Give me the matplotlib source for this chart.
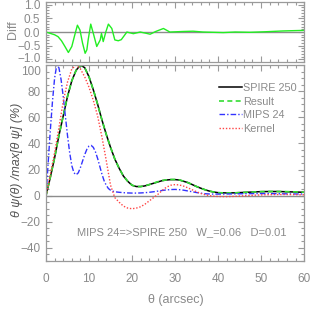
import matplotlib
matplotlib.use("Agg")
import matplotlib.pyplot as plt
from matplotlib.ticker import MultipleLocator
from matplotlib.transforms import ScaledTranslation

# ---------------- data ----------------
theta_a = list(range(0, 41)) + list(range(42, 61, 2))
spire250 = [0, 14, 29, 46, 61, 76, 88, 96, 100, 98,
            91, 81, 70, 58, 47, 37, 28, 21, 15, 11,
            8, 7, 7, 7.5, 8.5, 9.5, 10.5, 11.5, 12, 12.3,
            12.3, 12, 11, 10, 8.5, 7, 5.7, 4.5, 3.5, 2.8,
            2.3, 2.1, 2.2, 2.5, 2.8, 3.1, 3.2, 3.2, 3.0, 2.8, 2.6]
result = [0, 14, 29, 46, 61, 76, 88, 96, 100, 98,
          91, 81, 70, 58, 47, 37, 28, 21, 15, 11,
          8, 7, 7, 7.5, 8.5, 9.6, 10.7, 11.6, 12.1, 12.4,
          12.4, 12.1, 11.1, 10, 8.5, 7, 5.7, 4.5, 3.5, 2.8,
          2.3, 2.1, 2.2, 2.5, 2.8, 3.1, 3.2, 3.2, 3.1, 2.9, 2.7]
kernel = [0, 16, 33, 52, 72, 87, 97, 100, 97, 91,
          83, 73, 61, 45, 27, 8, -1.5, -5, -8, -9.5,
          -10, -9.5, -8.5, -6.5, -4, -1.5, 1, 4, 6.5, 8,
          8.5, 8.2, 7.3, 6, 4.5, 3, 1.7, 0.7, 0, -0.4,
          -0.6, -0.7, -0.5, -0.1, 0.3, 0.6, 0.8, 0.9, 0.9, 0.8, 0.7]

theta_b = [i * 0.5 for i in range(0, 33)] + list(range(17, 41)) + list(range(42, 61, 2))
mips24 = [0, 25, 50, 72, 90, 100, 98, 89, 76, 61,
          46, 33, 23, 17.5, 16, 17.5, 21.5, 26.5, 31.5, 35.5,
          38, 38.5, 37, 33.5, 28.5, 22.5, 16.5, 11.5, 8, 5.5,
          4.2, 3.5, 3.0,
          2.6, 2.3, 2.1, 2.0, 2.0, 2.1, 2.3, 2.6, 3.0, 3.5,
          4.0, 4.4, 4.7, 4.8, 4.6, 4.2, 3.6, 3.0, 2.4, 1.9,
          1.5, 1.3, 1.2, 1.2,
          1.3, 1.4, 1.5, 1.6, 1.6, 1.6, 1.5, 1.4, 1.3, 1.3]

theta_d = [0, 1, 2, 2.8, 3.6, 4.4, 5.2, 6.0, 6.7, 7.3, 7.9, 8.5, 9.1, 9.5, 9.8,
           10.4, 11.0, 11.8, 12.6, 12.9, 13.3, 13.9, 14.5, 15.3, 16.0, 16.8,
           17.5, 18.8, 20.3, 21.9, 23.4, 24.2, 25.5, 27.3, 28.8, 31.9, 34.2,
           36.5, 41.2, 44, 47.4, 51, 55.2, 59.8]
diff = [0, -0.05, -0.1, -0.17, -0.32, -0.53, -0.75, -0.53, -0.1, 0.25, 0.07,
        -0.41, -0.78, -0.65, -0.29, 0.29, -0.05, -0.53, -0.29, -0.05, -0.35,
        0.0, 0.29, 0.13, -0.29, -0.32, -0.28, 0.0, -0.06, 0.0, -0.05, -0.08,
        0.02, 0.13, 0.0, 0.02, 0.03, 0.0, -0.02, 0.0, -0.01, 0.01, 0.04, 0.06]

labels = ["SPIRE 250", "Result", "MIPS 24", "Kernel"]
note = "MIPS 24=>SPIRE 250   W_=0.06   D=0.01"

# ---------------- style ----------------
FONT = ["Liberation Sans", "DejaVu Sans"]
plt.rcParams["font.family"] = FONT
TXT = "#8a8a8a"
AX = "#9a9a9a"

fig = plt.figure(figsize=(3.14, 3.14), dpi=100)
ax1 = fig.add_axes([0.1465, 0.8025, 0.822, 0.191])
ax2 = fig.add_axes([0.1465, 0.1688, 0.822, 0.624])

for ax in (ax1, ax2):
    for s in ax.spines.values():
        s.set_color(AX)
        s.set_linewidth(0.9)
    ax.tick_params(which="both", direction="in", top=True, right=True,
                   colors=AX, labelcolor=TXT, labelsize=8.5, width=0.8)
    ax.tick_params(which="major", length=4)
    ax.tick_params(which="minor", length=2)
    ax.set_xlim(0, 60)
    ax.xaxis.set_major_locator(MultipleLocator(10))
    ax.xaxis.set_minor_locator(MultipleLocator(2))


def nudge(label, dy_pt):
    label.set_transform(label.get_transform() +
                        ScaledTranslation(0, dy_pt / 72, fig.dpi_scale_trans))


# top panel
ax1.set_ylim(-1.1, 1.1)
ax1.yaxis.set_minor_locator(MultipleLocator(0.1))
ax1.set_yticks([-1.0, -0.5, 0.0, 0.5, 1.0])
ax1.set_yticklabels(["\u22121.0", "\u22120.5", "0.0", "0.5", "1.0"])
ax1.tick_params(labelbottom=False)
ax1.tick_params(axis="y", pad=4)
nudge(ax1.get_yticklabels()[0], 1.5)
ax1.axhline(0, color="#8c8c8c", lw=1.0)
ax1.plot(theta_d, diff, color="#22ee22", lw=1.0)

# bottom panel
ax2.set_ylim(-50, 100)
ax2.yaxis.set_minor_locator(MultipleLocator(5))
ax2.set_yticks([-40, -20, 0, 20, 40, 60, 80, 100])
ax2.set_yticklabels(["\u221240", "\u221220", "0", "20", "40", "60", "80", "100"])
ax2.tick_params(axis="x", pad=9)
ax2.tick_params(axis="y", pad=4)
nudge(ax2.get_yticklabels()[-1], -4)
ax2.axhline(0, color="#8c8c8c", lw=1.0)
l1, = ax2.plot(theta_a, spire250, color="black", lw=1.1)
l2, = ax2.plot(theta_a, result, color="#33dd33", lw=1.2, dashes=(3, 2))
l3, = ax2.plot(theta_b, mips24, color="#3333ff", lw=1.0, dashes=(4, 1.5, 1, 1.5))
l4, = ax2.plot(theta_a, kernel, color="#ff4444", lw=1.0, dashes=(1, 1.3))

leg = ax2.legend([l1, l2, l3, l4], labels, loc="upper left",
                 bbox_to_anchor=(0.655, 0.93), frameon=False, fontsize=7.8,
                 handlelength=2.1, handletextpad=0.1, labelspacing=0.32,
                 borderaxespad=0, labelcolor=TXT)

ax2.text(0.12, 0.145, note, transform=ax2.transAxes, fontsize=8,
         color=TXT, ha="left", va="center")

fig.text(0.04, 0.905, "Diff", rotation=90, color=TXT, fontsize=9,
         ha="center", va="center")
fig.text(0.055, 0.49, "\u03b8 \u03c8(\u03b8) /max[\u03b8 \u03c8] (%)", rotation=90,
         color="#555555", fontsize=9, ha="center", va="center", style="italic")
fig.text(0.56, 0.045, "\u03b8 (arcsec)", color=TXT, fontsize=9,
         ha="center", va="center")

fig.savefig("out.png", dpi=100)
